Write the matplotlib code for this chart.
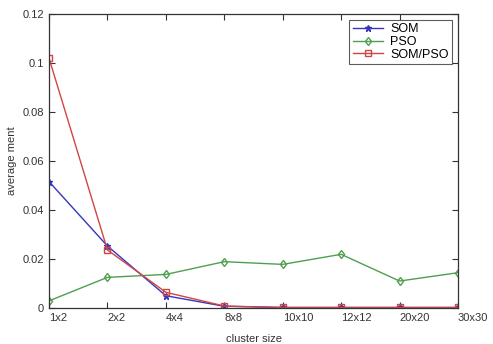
import matplotlib
matplotlib.use("Agg")
import matplotlib.pyplot as plt
from matplotlib.ticker import FuncFormatter

# cluster sizes along the x axis
clusterSizes = ["1x2", "2x2", "4x4", "8x8", "10x10", "12x12", "20x20", "30x30"]

# average ment per method
somValues = [0.0516, 0.0253, 0.0050, 0.0007, 0.0002, 0.0002, 0.0002, 0.0002]
psoValues = [0.0029, 0.0125, 0.0137, 0.0189, 0.0178, 0.0219, 0.0110, 0.0144]
somPsoValues = [0.1020, 0.0237, 0.0064, 0.0008, 0.0002, 0.0002, 0.0002, 0.0002]

plt.rcParams['font.family'] = ['Liberation Sans', 'DejaVu Sans']

fig = plt.figure(figsize=(4.93, 3.44), dpi=100)
ax = fig.add_axes([0.0994, 0.1047, 0.8296, 0.8546])

x = list(range(1, len(clusterSizes) + 1))

ax.plot(x, somValues, color='#3535c0', marker='*', markersize=5, linewidth=1, label='SOM')
ax.plot(x, psoValues, color='#4f9f4f', marker='d', markersize=4.5, markerfacecolor='none',
        linewidth=1, label='PSO')
ax.plot(x, somPsoValues, color='#d04545', marker='s', markersize=5, markerfacecolor='none',
        linewidth=1, label='SOM/PSO')

ax.set_xlim(1, 8)
ax.set_ylim(0, 0.12)
ax.set_xticks(x)
ax.set_xticklabels(clusterSizes, ha='left')
ax.set_yticks([0, 0.02, 0.04, 0.06, 0.08, 0.1, 0.12])
ax.yaxis.set_major_formatter(FuncFormatter(lambda v, p: f"{v:g}"))

ax.tick_params(direction='in', top=True, right=True, labelsize=8, colors='#333333',
               length=4, width=0.8)
for spine in ax.spines.values():
	spine.set_color('#333333')
	spine.set_linewidth(0.9)

ax.set_xlabel('cluster size', fontsize=8, color='#333333', labelpad=8)
ax.set_ylabel('average ment', fontsize=8, color='#333333', labelpad=4)

leg = ax.legend(loc='upper right', fontsize=9, frameon=True, fancybox=False,
                borderaxespad=0.45, handlelength=2.4, labelspacing=0.05,
                borderpad=0.3, edgecolor='#333333', handletextpad=0.6)
leg.get_frame().set_linewidth(0.8)

plt.savefig("out.png", dpi=100)
